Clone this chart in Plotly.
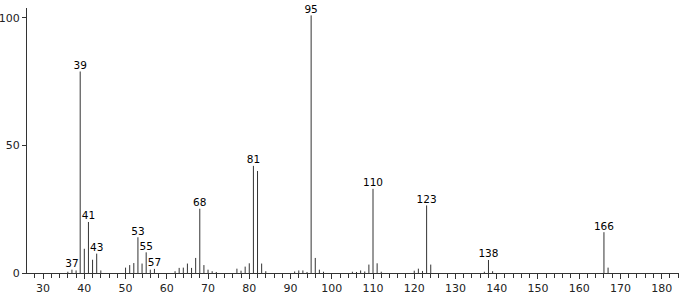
import plotly.graph_objects as go

mz = [36, 37, 38, 39, 40, 41, 42, 43, 44,
      50, 51, 52, 53, 54, 55, 56, 57,
      62, 63, 64, 65, 66, 67, 68, 69, 70, 71, 72,
      77, 78, 79, 80, 81, 82, 83, 84,
      91, 92, 93, 94, 95, 96, 97, 98,
      105, 106, 107, 108, 109, 110, 111, 112,
      120, 121, 122, 123, 124,
      137, 138, 139,
      166, 167]
intensity = [0.5, 1.3, 1.0, 79, 9.5, 20, 5.2, 7.6, 1.0,
             2.1, 3.1, 3.9, 14, 3.7, 8.1, 1.3, 1.6,
             0.7, 2.0, 2.1, 3.7, 2.0, 5.9, 25.2, 3.1, 1.3, 0.7, 0.4,
             1.7, 0.9, 2.5, 3.8, 42, 40, 3.7, 0.7,
             0.6, 1.0, 1.0, 0.4, 101, 5.9, 1.3, 0.5,
             0.5, 0.4, 1.0, 0.6, 3.3, 33, 3.8, 0.5,
             0.9, 1.7, 0.8, 26.5, 3.3,
             0.5, 5.1, 0.7,
             16, 2.1]
labeled = [37, 39, 41, 43, 53, 55, 57, 68, 81, 95, 110, 123, 138, 166]

xs, ys = [], []
for m, v in zip(mz, intensity):
    xs += [m, m, None]
    ys += [0, v, None]

lab_y = [intensity[mz.index(m)] for m in labeled]

fig = go.Figure()
fig.add_trace(go.Scatter(x=xs, y=ys, mode="lines",
                         line=dict(color="#333333", width=1),
                         hoverinfo="skip", showlegend=False))
fig.add_trace(go.Scatter(x=labeled, y=lab_y, mode="text",
                         text=[str(m) for m in labeled],
                         textposition="top center",
                         textfont=dict(family="DejaVu Sans", size=10.5, color="black"),
                         cliponaxis=False,
                         showlegend=False))

fig.update_layout(
    width=680, height=296,
    margin=dict(l=27, r=1, t=8, b=23, autoexpand=False),
    paper_bgcolor="white", plot_bgcolor="white",
    font=dict(family="DejaVu Sans", size=11, color="#222222"),
)
fig.update_xaxes(range=[26.1, 184.2], showgrid=False, zeroline=False,
                 automargin=False,
                 showline=True, linecolor="#333333", linewidth=1,
                 tickmode="linear", tick0=30, dtick=10,
                 ticks="outside", ticklen=5, tickcolor="#333333",
                 minor=dict(dtick=2, tick0=30, ticks="outside", ticklen=4,
                            tickcolor="#333333", showgrid=False))
fig.update_yaxes(range=[0, 103.9], showgrid=False, zeroline=False,
                 automargin=False,
                 showline=True, linecolor="#333333", linewidth=1,
                 tickvals=[0, 50, 100], ticks="outside", ticklen=4,
                 tickcolor="#333333")

fig.write_html("out.html")
